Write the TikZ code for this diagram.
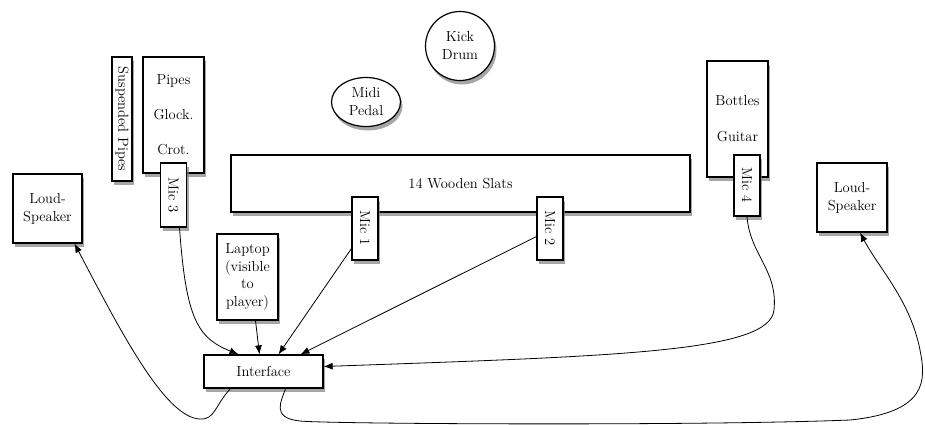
\documentclass[tikz,border=0pt]{standalone}
\usetikzlibrary{positioning,shadows,shapes.geometric,arrows.meta}

\begin{document}
\begin{tikzpicture}[
  x=1pt, y=-1pt,
  font=\fontsize{14.5}{17}\selectfont,
  >={Latex[length=9pt,width=7pt]},
  box/.style={draw=black, line width=1.2pt, fill=white, align=center, inner sep=0pt,
              drop shadow={shadow xshift=2pt, shadow yshift=-4pt, opacity=0.7}},
  mic/.style={box, minimum width=26pt, minimum height=63pt},
  round/.style={box, ellipse, inner sep=0pt},
  wire/.style={->, line width=0.8pt, black},
]
\useasboundingbox (0,0) rectangle (925,424);

% ---- instruments ----
\node[box, minimum width=20pt, minimum height=124pt] (susp) at (122,119) {\rotatebox{-90}{Suspended Pipes}};
\node[box, minimum width=61pt, minimum height=116pt] (pipes) at (173.5,115) {Pipes\\[18pt]Glock.\\[18pt]Crot.};
\node[box, minimum width=61pt, minimum height=116pt] (bottles) at (737.5,119) {Bottles\\[19pt]Guitar};
\node[box, minimum width=459pt, minimum height=57pt] (slats) at (460.5,183.5) {14 Wooden Slats};
\node[round, minimum width=69pt, minimum height=69pt] (kick) at (460,46) {Kick\\[1pt]Drum};
\node[round, minimum width=69pt, minimum height=49pt] (midi) at (366,102) {Midi\\[1pt]Pedal};

% ---- mics ----
\node[mic, minimum height=64pt] (mic3) at (173.5,195) {\rotatebox{-90}{Mic 3}};
\node[mic] (mic1) at (365,228.5) {\rotatebox{-90}{Mic 1}};
\node[mic] (mic2) at (550,228.5) {\rotatebox{-90}{Mic 2}};
\node[mic, minimum height=61pt] (mic4) at (747,185.5) {\rotatebox{-90}{Mic 4}};

% ---- speakers, laptop, interface ----
\node[box, minimum width=69pt, minimum height=69pt] (spkL) at (47.5,208.5) {Loud-\\[1pt]Speaker};
\node[box, minimum width=70pt, minimum height=69pt] (spkR) at (852,197.5) {Loud-\\[1pt]Speaker};
\node[box, minimum width=61pt, minimum height=86pt] (laptop) at (247.5,277) {Laptop\\[0.5pt](visible\\[0.5pt]to\\[0.5pt]player)};
\node[box, minimum width=119pt, minimum height=33pt] (iface) at (263.5,371.5) {Interface};

% ---- wires ----
\draw[wire] ([xshift=6pt]mic3.south) .. controls (186,320) and (198,338) .. ([xshift=-25pt]iface.north);
\draw[wire] ([xshift=8pt]laptop.south) -- ([xshift=-4pt]iface.north);
\draw[wire] ([yshift=12pt]mic1.south west) -- ([xshift=15pt]iface.north);
\draw[wire] ([yshift=-8pt]mic2.west) -- ([xshift=37pt]iface.north);
\draw[wire] (mic4.south) .. controls (750,255) and (778,270) .. (774,310)
            .. controls (770,352) and (620,356) .. ([yshift=5pt]iface.east);
\draw[wire] ([xshift=-33pt]iface.south) .. controls (215,405) and (215,420) .. (200,419)
            .. controls (165,418) and (120,330) .. ([xshift=27pt]spkL.south);
\draw[wire] ([xshift=22pt]iface.south) .. controls (282,400) and (270,418) .. (300,421)
            .. controls (330,424) and (700,426) .. (850,420)
            .. controls (928,412) and (926,380) .. (920,350)
            .. controls (910,300) and (880,270) .. ([xshift=8pt]spkR.south);
\end{tikzpicture}
\end{document}
